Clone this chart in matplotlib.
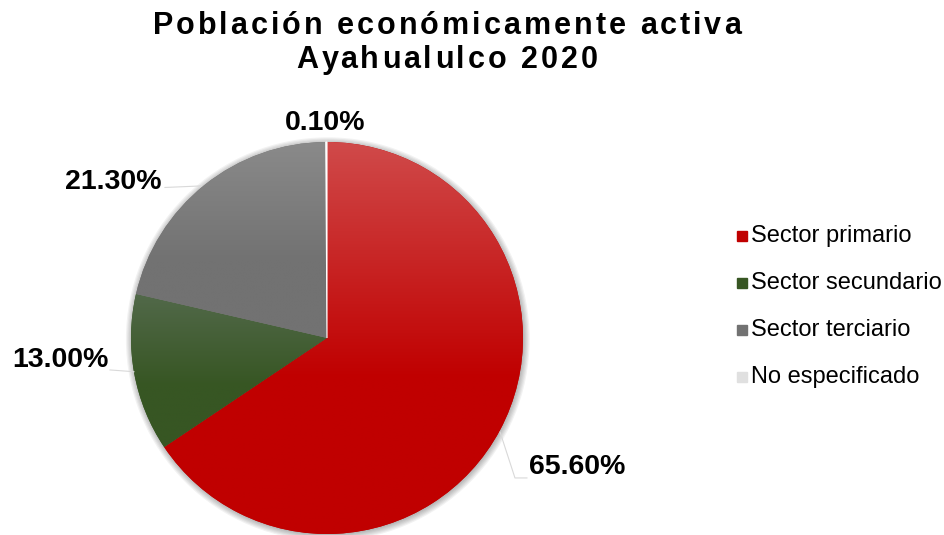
import numpy as np
import matplotlib.pyplot as plt
from matplotlib.colors import LinearSegmentedColormap
from matplotlib.patches import Circle, Rectangle
from matplotlib.font_manager import FontProperties

plt.rcParams['font.family'] = ['Liberation Sans', 'DejaVu Sans']

# datos
sectores = ['Sector primario', 'Sector secundario', 'Sector terciario', 'No especificado']
porcentajes = [65.6, 13.0, 21.3, 0.1]
etiquetas = ['65.60%', '13.00%', '21.30%', '0.10%']

colores = ['#C00000', '#375623', '#727272', '#E0E0E0']
claros = ['#D04A4A', '#52694A', '#8A8A8A', '#F0F0F0']

W, H = 945, 535
fig = plt.figure(figsize=(W / 100, H / 100), dpi=100)

# centro del pastel en pixeles y radio
cx, cy, R = 327, 338, 196
lim = 1.7
size = 2 * lim * R
ax = fig.add_axes([(cx - size / 2) / W, ((H - cy) - size / 2) / H, size / W, size / H])

# sombra suave
for k in range(6):
    ax.add_patch(Circle((0.004, -0.006), 1.0 + 0.006 * k, color='#000000',
                        alpha=0.05, lw=0, zorder=0))

wedges, _ = ax.pie(porcentajes, colors=colores, startangle=90, counterclock=False,
                   radius=1.0, wedgeprops=dict(linewidth=0, zorder=1))

# degradado vertical en cada rebanada
for w, c_claro, c in zip(wedges, claros, colores):
    bb = w.get_path().get_extents()
    cmap = LinearSegmentedColormap.from_list('g', [(0, c_claro), (0.6, c), (1, c)])
    grad = np.linspace(0, 1, 256).reshape(-1, 1)
    im = ax.imshow(grad, cmap=cmap, extent=[bb.x0, bb.x1, bb.y0, bb.y1],
                   origin='upper', aspect='auto', zorder=2, interpolation='bilinear')
    im.set_clip_path(w)

# borde blanco de la rebanada pequena
wedges[3].set_edgecolor('white')
wedges[3].set_linewidth(0.8)
wedges[3].set_zorder(3)

ax.set_xlim(-lim, lim)
ax.set_ylim(-lim, lim)
ax.set_aspect('auto')
ax.axis('off')

# etiquetas de datos
pos_etq = [(1.276, -0.658), (-1.362, -0.112), (-1.092, 0.796), (-0.01, 1.097)]
for (x, y), t in zip(pos_etq, etiquetas):
    ax.text(x, y, t, ha='center', va='center', fontsize=20.5, fontweight='bold',
            color='#000000', zorder=5, clip_on=False)

# lineas guia
guia = '#D9D9D9'
ax.plot([-0.827, -0.64], [0.768, 0.776], color=guia, lw=0.8, zorder=4, clip_on=False)
ax.plot([-1.107, -0.985], [-0.163, -0.172], color=guia, lw=0.8, zorder=4, clip_on=False)
ax.plot([0.883, 0.959, 1.02], [-0.48, -0.714, -0.714], color=guia, lw=0.8, zorder=4, clip_on=False)


# titulo con espaciado entre letras
def texto_espaciado(s, xc, base, fs, esp):
    r = fig.canvas.get_renderer()
    fp = FontProperties(family='Liberation Sans', weight='bold', size=fs)

    def ancho(t):
        if not t:
            return 0.0
        return r.get_text_width_height_descent(t, fp, ismath=False)[0]

    total = ancho(s) + esp * (len(s) - 1)
    x0 = xc - total / 2
    for i, ch in enumerate(s):
        if ch == ' ':
            continue
        x = x0 + ancho(s[:i]) + esp * i
        fig.text(x / W, (H - base) / H, ch, fontproperties=fp,
                 ha='left', va='baseline', color='#000000')


texto_espaciado('Población económicamente activa', 447, 34, 22, 3.0)
texto_espaciado('Ayahualulco 2020', 447, 68, 22, 3.0)

# leyenda
for i, (nom, c) in enumerate(zip(sectores, colores)):
    yy = 236 + 47 * i
    fig.patches.append(Rectangle((737 / W, (H - yy - 5) / H), 10 / W, 10 / H,
                                 transform=fig.transFigure, color=c, figure=fig))
    fig.text(751 / W, (H - yy) / H, nom, fontsize=17, va='center', ha='left',
             color='#000000')

fig.savefig('out.png', dpi=100)
